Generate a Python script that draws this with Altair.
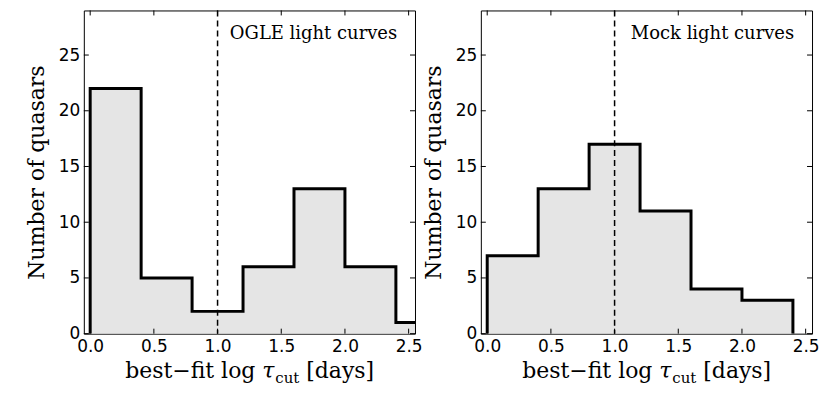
import altair as alt
import pandas as pd

# ---- data ----
ogle_edges = [0.0, 0.4, 0.8, 1.2, 1.6, 2.0, 2.4, 2.8]
ogle_counts = [22, 5, 2, 6, 13, 6, 1]
mock_edges = [0.0, 0.4, 0.8, 1.2, 1.6, 2.0, 2.4]
mock_counts = [7, 13, 17, 11, 4, 3]
x_ticks = [0.0, 0.5, 1.0, 1.5, 2.0, 2.5]
y_ticks = [0, 5, 10, 15, 20, 25]
cut_value = [1.0]
panel_labels = ["OGLE light curves", "Mock light curves"]
y_title = "Number of quasars"
x_title_parts = ["best\u2212fit log", "\u03c4", "cut", "[days]"]

W, H = 332, 324
SERIF = "DejaVu Serif"
SANS = "DejaVu Sans"


def panel(edges, counts, label):
    n = len(counts)
    area_df = pd.DataFrame({"x": edges[:n] + [edges[n]], "y": counts + [counts[-1]]})
    lx = [edges[0]] + edges[:n] + [edges[n], edges[n]]
    ly = [0] + counts + [counts[-1], 0]
    line_df = pd.DataFrame({"x": lx, "y": ly, "i": list(range(len(lx)))})

    xs = alt.Scale(domain=[-0.05, 2.55], nice=False, zero=False)
    ys = alt.Scale(domain=[0, 29], nice=False, zero=False)
    xax = alt.Axis(values=x_ticks, format=".1f", ticks=False, domain=False, grid=False,
                   labelPadding=5, labelFont=SANS, labelFontSize=17, labelColor="black",
                   labelFlush=False, labelOverlap=False, labelBound=False)
    yax = alt.Axis(values=y_ticks, format="d", ticks=False, domain=False, grid=False,
                   labelPadding=4, labelFont=SANS, labelFontSize=17, labelColor="black",
                   labelFlush=False, labelOverlap=False, labelBound=False,
                   titleFont=SERIF, titleFontSize=22, titleFontWeight="normal",
                   titleColor="black", titlePadding=10)
    X = alt.X("x:Q", scale=xs, axis=xax, title=None)
    Y = alt.Y("y:Q", scale=ys, axis=yax, title=y_title)

    area = alt.Chart(area_df).mark_area(interpolate="step-after", color="#e5e5e5",
                                        opacity=1, clip=True).encode(x=X, y=Y)
    line = alt.Chart(line_df).mark_line(interpolate="step-after", color="black",
                                        strokeWidth=3, clip=True, strokeJoin="miter",
                                        strokeCap="butt").encode(
        x=X, y=Y, order=alt.Order("i:Q"))
    dash = alt.Chart(pd.DataFrame({"x": cut_value})).mark_rule(
        color="black", strokeWidth=1.5, strokeDash=[6, 4]).encode(x=X)
    ann = alt.Chart(pd.DataFrame({"t": [label]})).mark_text(
        text=label, align="right", baseline="middle", font=SERIF, fontSize=18,
        color="black").encode(x=alt.datum(2.41, type="quantitative"), y=alt.datum(26.9, type="quantitative"))

    xt = pd.DataFrame({"x": x_ticks})
    yt = pd.DataFrame({"y": y_ticks})
    tick_top = alt.Chart(xt).mark_rule(color="black", strokeWidth=1).encode(
        x=X, y=alt.value(0), y2=alt.value(5))
    tick_bot = alt.Chart(xt).mark_rule(color="black", strokeWidth=1).encode(
        x=X, y=alt.value(H), y2=alt.value(H - 5))
    tick_l = alt.Chart(yt).mark_rule(color="black", strokeWidth=1).encode(
        y=Y, x=alt.value(0), x2=alt.value(5))
    tick_r = alt.Chart(yt).mark_rule(color="black", strokeWidth=1).encode(
        y=Y, x=alt.value(W), x2=alt.value(W - 5))

    one = pd.DataFrame({"k": [0]})
    xa = 191
    t1 = alt.Chart(one).mark_text(text=x_title_parts[0], align="right", baseline="alphabetic",
                                  font=SERIF, fontSize=22, color="black").encode(
        x=alt.value(xa - 19), y=alt.value(H + 44))
    tau = alt.Chart(one).mark_text(text=x_title_parts[1], align="right", baseline="alphabetic",
                                   font=SERIF, fontSize=22, fontStyle="italic", color="black").encode(
        x=alt.value(xa), y=alt.value(H + 44))
    t2 = alt.Chart(one).mark_text(text=x_title_parts[2], align="left", baseline="alphabetic",
                                  font=SERIF, fontSize=15, color="black").encode(
        x=alt.value(xa + 1), y=alt.value(H + 49))
    t3 = alt.Chart(one).mark_text(text=x_title_parts[3], align="left", baseline="alphabetic",
                                  font=SERIF, fontSize=22, color="black").encode(
        x=alt.value(xa + 32), y=alt.value(H + 44))

    return alt.layer(area, line, dash, ann, tick_top, tick_bot, tick_l, tick_r,
                     t1, tau, t2, t3).properties(width=W, height=H)


chart = alt.hconcat(
    panel(ogle_edges, ogle_counts, panel_labels[0]),
    panel(mock_edges, mock_counts, panel_labels[1]),
    spacing=66, bounds="flush",
).properties(
    padding={"left": 16, "top": 0, "right": 2, "bottom": 2},
    background="white",
).configure_view(stroke="black", strokeWidth=1)

chart.save("out.html", embed_options={"renderer": "svg", "actions": False})
